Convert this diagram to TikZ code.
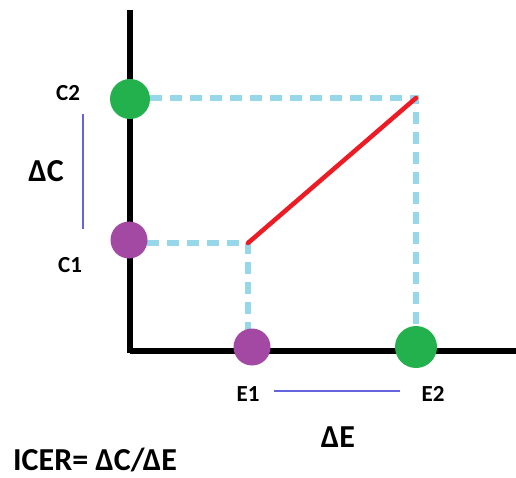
\documentclass[tikz,border=0pt]{standalone}
\usepackage{fontspec}
\setmainfont{Carlito}
\begin{document}
\begin{tikzpicture}[x=1pt,y=-1pt,
  axis/.style={line width=5.5pt,black},
  guide/.style={line width=5.5pt,color=guideblue,dash pattern=on 12pt off 8pt},
  dot/.style={circle,inner sep=0pt,minimum size=#1},
  gdot/.style={dot=#1,fill=dotgreen},
  pdot/.style={dot=#1,fill=dotpurple},
  lbl/.style={font=\bfseries\fontsize{23}{23}\selectfont,inner sep=0pt},
  big/.style={font=\bfseries\fontsize{32}{32}\selectfont,inner sep=0pt},
  span/.style={line width=1.2pt,color=spanblue}]
\definecolor{guideblue}{RGB}{150,215,234}
\definecolor{dotgreen}{RGB}{35,177,77}
\definecolor{dotpurple}{RGB}{163,73,164}
\definecolor{spanblue}{RGB}{100,100,225}
\definecolor{costred}{RGB}{237,28,36}
\useasboundingbox (0,0) rectangle (516,478);
% axes
\coordinate (top) at (130,10);
\coordinate (origin) at (130,351);
\coordinate (right) at (516,351);
\draw[axis] (top) -- (origin |- 0,353);
\draw[axis] (origin) -- (right);
% corner points of the guides
\coordinate (P1) at (248,243);
\coordinate (P2) at (416,98);
% dashed guides
\draw[guide] (150,98) -- (P2) -- (416,330);
\draw[guide] (147,243) -- (P1) -- (248,330);
% cost line
\draw[line width=4.5pt,costred,line cap=round] (P1) -- (P2);
% points on the axes
\node[gdot=40pt] (c2) at (130,99) {};
\node[pdot=37pt] (c1) at (129,240) {};
\node[pdot=37pt] (e1) at (252,347) {};
\node[gdot=42pt] (e2) at (416,347) {};
% labels
\node[lbl] (lc2) at (68,93) {C2};
\node[lbl] (lc1) at (70,265) {C1};
\node[lbl] (le1) at (248,394) {E1};
\node[lbl] (le2) at (433,394) {E2};
\node[big] (dc) at (46,171) {ΔC};
\node[big] (de) at (338,437) {ΔE};
\node[big,anchor=base west] (icer) at (13,470) {ICER= ΔC/ΔE};
% span markers
\coordinate (s1) at (83,114);
\coordinate (s2) at (83,229);
\draw[span] (s1) -- (s2);
\coordinate (s3) at (274,391);
\coordinate (s4) at (400,391);
\draw[span] (s3) -- (s4);
\end{tikzpicture}
\end{document}
